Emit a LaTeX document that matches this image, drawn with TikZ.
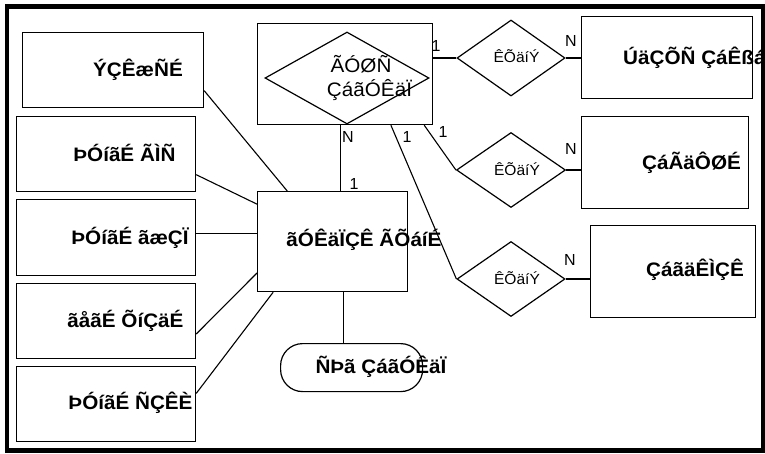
\documentclass[tikz,border=0pt]{standalone}
\usepackage{fontspec}
\usepackage{graphicx}
\setmainfont{Liberation Sans}
\usetikzlibrary{calc,shapes.geometric}
\newcommand\hstretch[1]{\scalebox{1.06}[1]{#1}}
\begin{document}
\begin{tikzpicture}[x=1pt,y=-1pt,
  box/.style={draw,line width=1.2pt,inner sep=0pt,anchor=north west},
  rel/.style={draw,diamond,line width=1.2pt,inner sep=0pt},
  ln/.style={line width=1.1pt},
  etext/.style={inner sep=0pt,font=\fontsize{19.5}{22}\selectfont\bfseries},
  dtext/.style={inner sep=0pt,font=\fontsize{19.5}{22}\selectfont},
  rtext/.style={inner sep=0pt,font=\fontsize{14.7}{17}\selectfont},
  card/.style={inner sep=0pt,font=\fontsize{16}{18}\selectfont}]
\useasboundingbox (0,0) rectangle (765,453);

% left entity boxes
\node[box,minimum width=181pt,minimum height=75pt] (b1) at (22,32) {};
\node[box,minimum width=179pt,minimum height=75pt] (b2) at (16,116) {};
\node[box,minimum width=179pt,minimum height=76pt] (b3) at (16,199) {};
\node[box,minimum width=179pt,minimum height=75pt] (b4) at (16,283) {};
\node[box,minimum width=179pt,minimum height=75pt] (b5) at (16,366) {};

% central entity and weak-entity box
\node[box,minimum width=150pt,minimum height=100pt] (ent) at (257,191) {};
\node[box,minimum width=175pt,minimum height=101pt] (cb) at (257,23) {};
\node[rel,minimum width=164pt,minimum height=92pt] (cd) at (347,78) {};

% attribute
\node[box,rounded corners=22pt,minimum width=142pt,minimum height=48pt] (rk) at (280,343) {};

% right entity boxes
\node[box,minimum width=171pt,minimum height=82pt] (r1) at (581,16) {};
\node[box,minimum width=167pt,minimum height=92pt] (r2) at (581,116) {};
\node[box,minimum width=165pt,minimum height=92pt] (r3) at (590,225) {};

% relationship diamonds
\node[rel,minimum width=108pt,minimum height=76pt] (d1) at (511,58) {};
\node[rel,minimum width=109pt,minimum height=75pt] (d2) at (511,170) {};
\node[rel,minimum width=108pt,minimum height=75pt] (d3) at (511,279) {};

% connectors
\draw[ln] ($(b1.north east)!0.77!(b1.south east)$) -- ($(ent.north west)!0.2!(ent.north east)$);
\draw[ln] ($(b2.north east)!0.77!(b2.south east)$) -- ($(ent.north west)!0.13!(ent.south west)$);
\draw[ln] ($(b3.north east)!0.45!(b3.south east)$) coordinate (p3) -- (p3 -| ent.west);
\draw[ln] ($(b4.north east)!0.67!(b4.south east)$) -- ($(ent.north west)!0.81!(ent.south west)$);
\draw[ln] ($(b5.north east)!0.36!(b5.south east)$) -- ($(ent.south west)!0.107!(ent.south east)$);
\draw[ln] ($(ent.south west)!0.573!(ent.south east)$) coordinate (p6) -- (p6 |- rk.north);
\draw[ln] ($(cb.south west)!0.474!(cb.south east)$) coordinate (p7) -- (p7 |- ent.north);
\draw[ln] ($(cb.south west)!0.76!(cb.south east)$) -- (d3.west);
\draw[ln] ($(cb.south west)!0.949!(cb.south east)$) -- (d2.west);
\draw[ln] (d1.west) -- (d1.west -| cb.east);
\draw[ln] (d1.east) -- (d1.east -| r1.west);
\draw[ln] (d2.east) -- (d2.east -| r2.west);
\draw[ln] (d3.east) -- (d3.east -| r3.west);

% texts
\node[etext] (t1) at (138,70) {\hstretch{ÝÇÊæÑÉ}};
\node[etext] (t2) at (124.5,153) {\hstretch{ÞÓíãÉ ÃÌÑ}};
\node[etext] (t3) at (130,238) {\hstretch{ÞÓíãÉ ãæÇÏ}};
\node[etext] (t4) at (125.5,321) {\hstretch{ãåãÉ ÕíÇäÉ}};
\node[etext] (t5) at (130.5,403) {\hstretch{ÞÓíãÉ ÑÇÊÈ}};
\node[etext] (te) at (364,240) {\hstretch{ãÓÊäÏÇÊ ÃÕáíÉ}};
\node[etext] (tk) at (381,367) {\hstretch{ÑÞã ÇáãÓÊäÏ}};
\node[etext,anchor=west] (tr1) at (623,58) {\hstretch{ÚäÇÕÑ ÇáÊßá}};
\node[etext] (tr2) at (691.5,163) {\hstretch{ÇáÃäÔØÉ}};
\node[etext] (tr3) at (695,270) {\hstretch{ÇáãäÊÌÇÊ}};

\node[dtext] (tc1) at (361,64) {\hstretch{ÃÓØÑ}};
\node[dtext] (tc2) at (369.5,90) {\hstretch{ÇáãÓÊäÏ}};
\node[rtext] (td1) at (516.5,56) {\hstretch{ÊÕäíÝ}};
\node[rtext] (td2) at (517,169) {\hstretch{ÊÕäíÝ}};
\node[rtext] (td3) at (517,278) {\hstretch{ÊÕäíÝ}};

% cardinalities
\node[card] (c1) at (436,46) {1};
\node[card] (c2) at (571,41) {N};
\node[card] (c3) at (443,132) {1};
\node[card] (c4) at (571,149) {N};
\node[card] (c5) at (407,137) {1};
\node[card] (c6) at (570,260) {N};
\node[card] (c7) at (348,137) {N};
\node[card] (c8) at (354,184) {1};

% outer frame
\draw[line width=4.5pt] (7,6.5) rectangle (763.5,450.5);
\end{tikzpicture}
\end{document}
